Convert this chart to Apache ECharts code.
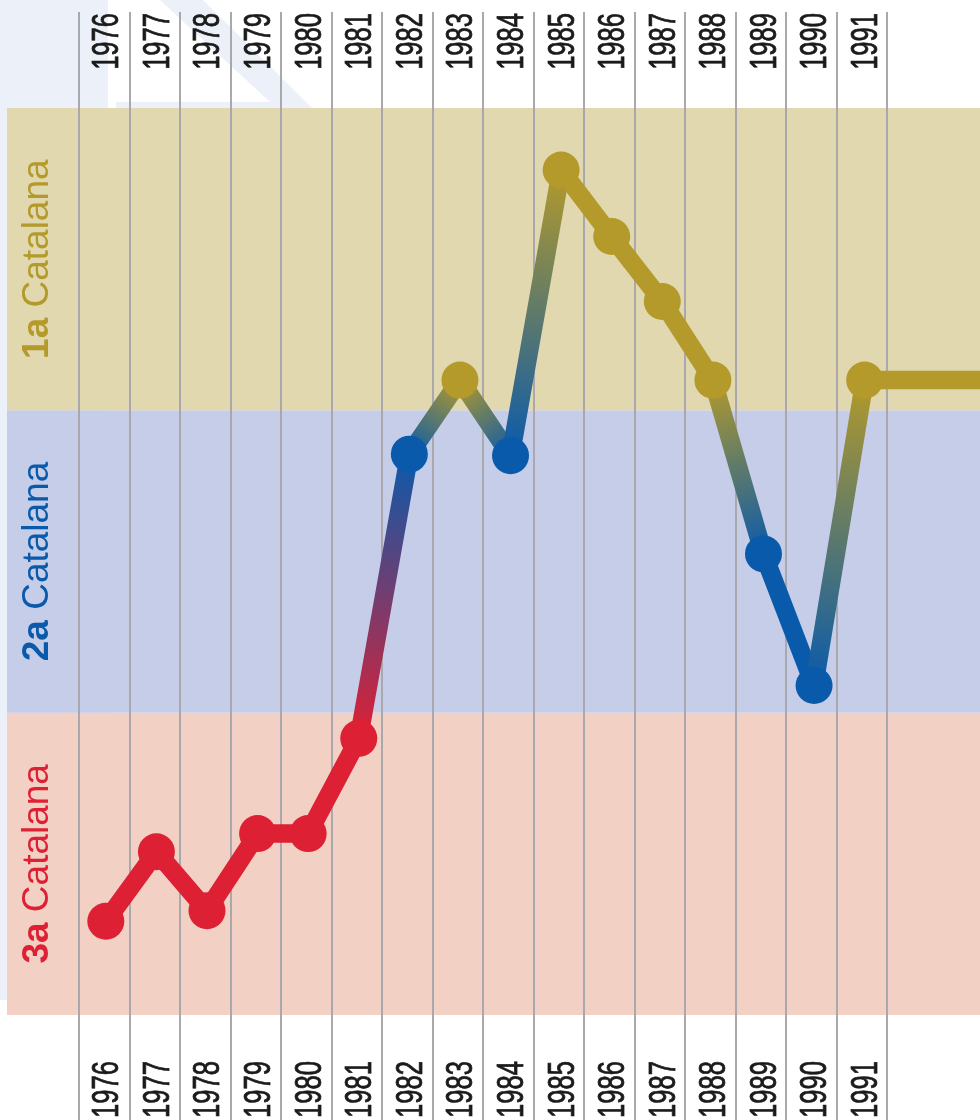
<!DOCTYPE html>
<html><head><meta charset="utf-8">
<script src="https://cdn.jsdelivr.net/npm/echarts@6/dist/echarts.min.js"></script>
<style>html,body{margin:0;padding:0;background:#fff}#c{width:980px;height:1120px}</style>
</head><body><div id="c"></div>
<script>
// ---- data ----
const years = ['1976','1977','1978','1979','1980','1981','1982','1983','1984','1985','1986','1987','1988','1989','1990','1991'];
const yearValues = [1976,1977,1978,1979,1980,1981,1982,1983,1984,1985,1986,1987,1988,1989,1990,1991];
// position on a 0..3 scale: 0-1 = 3a Catalana, 1-2 = 2a Catalana, 2-3 = 1a Catalana
const level = [0.31,0.54,0.345,0.60,0.60,0.915,1.855,2.10,1.85,2.795,2.575,2.36,2.10,1.525,1.09,2.10];
const extendTo = 1995; // line keeps going right at the last level
const bandNames = ['3a','2a','1a'];
const bandWord = 'Catalana';
const bandLow = [0,1,2];
const bandHigh = [1,2,3];
const bandFill = ['#f3d0c4','#c6cde9','#e2d8b0'];
const divisionColor = ['#dd2034','#0a5aab','#b39a2a'];

const colorOf = v => divisionColor[Math.min(2, Math.max(0, Math.floor(v)))];

const segments = [];
for (let i = 1; i < yearValues.length; i++) segments.push([yearValues[i-1], level[i-1], yearValues[i], level[i]]);
segments.push([yearValues[yearValues.length-1], level[level.length-1], extendTo, level[level.length-1]]);

const bands = bandLow.map((lo, i) => [0, lo, 1, bandHigh[i], i]);
const points = yearValues.map((y, i) => [y, level[i]]);
const labelItems = yearValues.map((y, i) => [y, 0, i]);

const chart = echarts.init(document.getElementById('c'), null, {renderer: 'canvas'});
const sansFont = "'Liberation Sans', Arial, sans-serif";

function yearText(x, y, txt, align) {
  return {type: 'text', x: x, y: y, rotation: Math.PI / 2, scaleX: 0.71, scaleY: 1,
          style: {text: txt, font: '36px ' + sansFont, fill: '#1a1a1a', stroke: '#1a1a1a', lineWidth: 0.8,
                  align: align, verticalAlign: 'middle'}};
}

chart.setOption({
  animation: false,
  backgroundColor: '#fff',
  graphic: [
    {type: 'rect', z: -10, shape: {x: 0, y: 0, width: 108, height: 1000}, style: {fill: '#ecf0f8'}},
    {type: 'polygon', z: -10, shape: {points: [[160,0],[203,0],[312,108],[116,108],[116,102],[270,102]]}, style: {fill: '#ecf0f8'}}
  ],
  grid: [
    {left: 79, right: 93, top: 12, bottom: 0},
    {left: 7, right: 0, top: 108, bottom: 105},
    {left: 78, right: 0, top: 108, bottom: 105}
  ],
  xAxis: [
    {type: 'category', gridIndex: 0, data: years, boundaryGap: true, z: 3,
     axisLine: {show: false}, axisTick: {show: false}, axisLabel: {show: false},
     splitLine: {show: true, lineStyle: {color: '#a9a9ad', width: 2}}},
    {type: 'value', gridIndex: 1, min: 0, max: 1, show: false},
    {type: 'value', gridIndex: 2, min: 1975.45, max: 1993.28, show: false}
  ],
  yAxis: [
    {type: 'value', gridIndex: 0, min: 0, max: 1, show: false},
    {type: 'value', gridIndex: 1, min: 0, max: 3, show: false},
    {type: 'value', gridIndex: 2, min: 0, max: 3, show: false}
  ],
  series: [
    {
      type: 'custom', xAxisIndex: 1, yAxisIndex: 1, z: 1, data: bands, silent: true,
      encode: {x: [0, 2], y: [1, 3]},
      renderItem(params, api) {
        const i = api.value(4);
        const a = api.coord([api.value(0), api.value(3)]);
        const b = api.coord([api.value(2), api.value(1)]);
        const col = divisionColor[i];
        return {type: 'group', children: [
          {type: 'rect', shape: {x: a[0], y: a[1], width: b[0] - a[0], height: b[1] - a[1]}, style: {fill: bandFill[i]}},
          {type: 'text', x: a[0] + 31, y: (a[1] + b[1]) / 2, rotation: Math.PI / 2,
           style: {text: '{b|' + bandNames[i] + '} ' + bandWord, fill: col,
                   font: '37px ' + sansFont,
                   align: 'center', verticalAlign: 'middle',
                   rich: {b: {fontWeight: 'bold', fontSize: 37, fontFamily: sansFont, fill: col}}}}
        ]};
      }
    },
    {
      // year labels, top and bottom
      type: 'custom', xAxisIndex: 2, yAxisIndex: 2, z: 4, data: labelItems, silent: true, clip: false,
      encode: {x: 0, y: 1},
      renderItem(params, api) {
        const p = api.coord([api.value(0), 0]);
        const txt = years[api.value(2)];
        const x = p[0] + 2.5;
        return {type: 'group', children: [
          yearText(x, 13, txt, 'right'),
          yearText(x, 1118, txt, 'left')
        ]};
      }
    },
    {
      type: 'custom', xAxisIndex: 2, yAxisIndex: 2, z: 5, clip: true, data: segments, silent: true,
      encode: {x: [0, 2], y: [1, 3]},
      renderItem(params, api) {
        const v0 = api.value(1), v1 = api.value(3);
        const p0 = api.coord([api.value(0), v0]);
        const p1 = api.coord([api.value(2), v1]);
        const c0 = colorOf(v0), c1 = colorOf(v1);
        const stroke = c0 === c1 ? c0 : new echarts.graphic.LinearGradient(p0[0], p0[1], p1[0], p1[1],
          [{offset: 0, color: c0}, {offset: 1, color: c1}], true);
        return {type: 'line', shape: {x1: p0[0], y1: p0[1], x2: p1[0], y2: p1[1]},
                style: {stroke: stroke, lineWidth: 18.5, lineCap: 'round', fill: null}};
      }
    },
    {
      type: 'scatter', xAxisIndex: 2, yAxisIndex: 2, z: 6, data: points, symbolSize: 37,
      itemStyle: {color: p => colorOf(p.value[1]), opacity: 1}
    }
  ]
});
</script>
</body></html>
